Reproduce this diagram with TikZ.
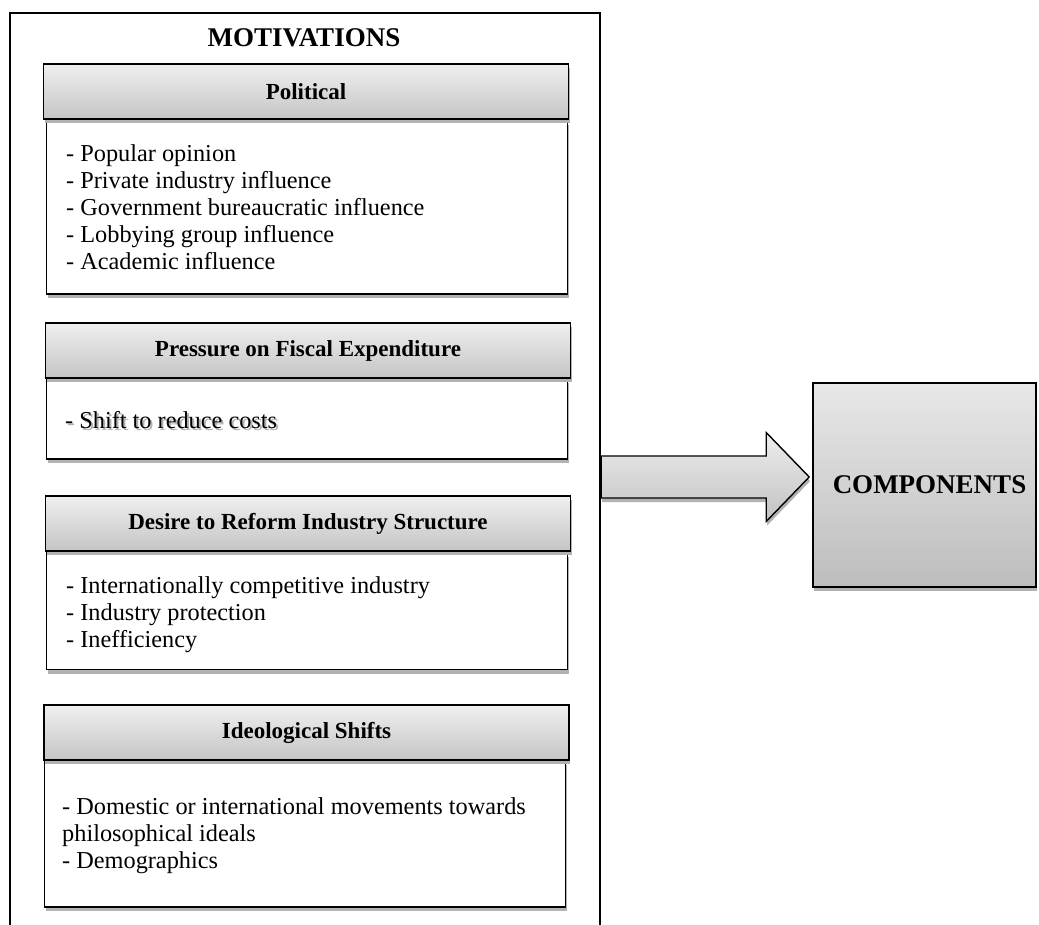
\documentclass[tikz,border=0pt]{standalone}
\usepackage{fontspec}
\setmainfont{Liberation Serif}
\usetikzlibrary{shadows,calc}

\begin{document}
\begin{tikzpicture}[x=1pt,y=-1pt,
    shade/.style={drop shadow={shadow xshift=1pt,shadow yshift=-4pt,fill=black!30,opacity=1}},
    head/.style={draw,line width=1.6pt,top color=gray!12,bottom color=gray!46,shade,
        minimum width=525pt,minimum height=55pt,inner sep=0pt,font=\fontsize{23}{27}\selectfont\bfseries},
    body/.style={draw,line width=1.6pt,fill=white,shade,minimum width=521pt,inner sep=0pt},
    items/.style={anchor=base west,align=left,inner sep=0pt,font=\fontsize{24.3}{27}\selectfont},
    big/.style={font=\fontsize{27}{30}\selectfont\bfseries}]
    \useasboundingbox (0,0) rectangle (1039,925);
    % outer frame, open at the bottom
    \draw[line width=1.4pt] (10,925) -- (10,13) -- (600,13) -- (600,925);
    \node[big] (motiv) at (304,38) {MOTIVATIONS};

    % lists are anchored on the baseline of their last line
    \node[body,minimum height=173pt] (pol-body) at (307,207.5) {};
    \node[head] (pol) at (306,91.5) {Political};
    \node[items] (pol-list) at (66,270) {- Popular opinion\\- Private industry influence\\- Government bureaucratic influence\\- Lobbying group influence\\- Academic influence};

    \node[body,minimum height=80pt] (fis-body) at (307,419) {};
    \node[head] (fis) at (308,350.5) {Pressure on Fiscal Expenditure};
    \node[items,text=black!30] (fis-ghost) at (67,430) {- Shift to reduce costs};
    \node[items] (fis-list) at (65,428) {- Shift to reduce costs};

    \node[body,minimum height=117pt] (ind-body) at (307,611) {};
    \node[head] (ind) at (308,523.5) {Desire to Reform Industry Structure};
    \node[items] (ind-list) at (66,647) {- Internationally competitive industry\\- Industry protection\\- Inefficiency};

    \node[body,minimum height=146pt] (ideo-body) at (305,834) {};
    \node[head] (ideo) at (306.5,732.5) {Ideological Shifts};
    \node[items] (ideo-list) at (62,868) {- Domestic or international movements towards\\philosophical ideals\\- Demographics};

    \node[draw,line width=1.6pt,top color=gray!18,bottom color=gray!52,shade,
        minimum width=223pt,minimum height=204pt,big] (comp) at (924.5,485) {\hspace*{10pt}COMPONENTS};

    % block arrow between the frame and the components box
    \coordinate (tip) at ($(comp.west)+(-3,-8)$);
    \draw[line width=1.4pt,top color=gray!14,bottom color=gray!48,shade]
        (tip) -- ++(-43,-44.5) -- ++(0,23.5) -- ++(-165,0) -- ++(0,42)
        -- ++(165,0) -- ++(0,23.5) -- cycle;
\end{tikzpicture}
\end{document}
